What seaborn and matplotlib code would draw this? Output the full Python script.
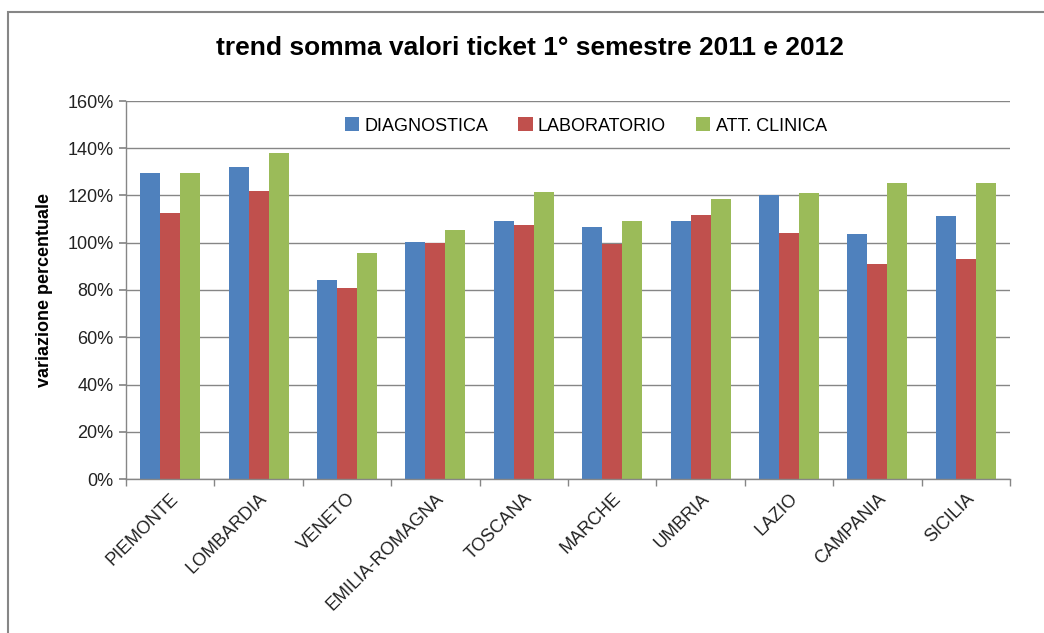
import matplotlib
matplotlib.use("Agg")
import matplotlib.pyplot as plt
import seaborn as sns
import pandas as pd
from matplotlib.patches import Rectangle
from matplotlib.ticker import FuncFormatter, FixedLocator

regions = ["PIEMONTE", "LOMBARDIA", "VENETO", "EMILIA-ROMAGNA", "TOSCANA",
           "MARCHE", "UMBRIA", "LAZIO", "CAMPANIA", "SICILIA"]
diagnostica = [129.6, 132.1, 84.1, 100.2, 109.1, 106.5, 109.1, 120.0, 103.8, 111.3]
laboratorio = [112.6, 122.1, 81.0, 99.9, 107.4, 99.4, 111.8, 104.2, 90.9, 93.0]
att_clinica = [129.6, 138.1, 95.8, 105.5, 121.5, 109.1, 118.6, 121.1, 125.5, 125.1]
series_names = ["DIAGNOSTICA", "LABORATORIO", "ATT. CLINICA"]
colors = ["#4F81BD", "#C0504D", "#9BBB59"]
title = "trend somma valori ticket 1° semestre 2011 e 2012"
ylabel = "variazione percentuale"

rows = []
for name, vals in zip(series_names, [diagnostica, laboratorio, att_clinica]):
    for r, v in zip(regions, vals):
        rows.append({"regione": r, "serie": name, "valore": v})
df = pd.DataFrame(rows)

sns.set_theme(style="white")
plt.rcParams['font.family'] = ['Liberation Sans', 'DejaVu Sans']
plt.rcParams['text.color'] = 'black'
plt.rcParams['axes.labelcolor'] = 'black'

fig = plt.figure(figsize=(10.44, 6.33), dpi=100)
ax = fig.add_axes([126/1044, 1-479/633, (1010-126)/1044, (479-101)/633])

sns.barplot(data=df, x="regione", y="valore", hue="serie", palette=colors,
            width=0.68, ax=ax, saturation=1, edgecolor="none", linewidth=0)

ax.set_ylim(0, 160)
ax.set_xlim(-0.5, len(regions) - 0.5)
ax.set_yticks(range(0, 161, 20))
ax.yaxis.set_major_formatter(FuncFormatter(lambda v, p: f"{int(v)}%"))
ax.grid(axis="y", color="#868686", linewidth=1)
ax.set_axisbelow(True)
for s in ["top", "right"]:
    ax.spines[s].set_visible(False)
for s in ["left", "bottom"]:
    ax.spines[s].set_color("#868686")
    ax.spines[s].set_linewidth(1)

ax.tick_params(axis="y", which="major", left=True, length=5, color="#868686",
               labelsize=13, labelcolor="#222222", pad=4)
ax.set_xticks(range(len(regions)))
ax.set_xticklabels(regions, rotation=45, ha="right", rotation_mode="anchor",
                   fontsize=13, color="#222222")
ax.tick_params(axis="x", which="major", length=0, pad=8)
ax.xaxis.set_minor_locator(FixedLocator([i - 0.5 for i in range(len(regions) + 1)]))
ax.tick_params(axis="x", which="minor", bottom=True, length=5, color="#868686")

ax.set_xlabel("")
ax.set_ylabel(ylabel, fontsize=13, fontweight="bold", labelpad=10)

handles, labels = ax.get_legend_handles_labels()
leg = ax.legend(handles, labels, loc="center", bbox_to_anchor=(0.52, 0.934),
                ncol=3, frameon=False, fontsize=13, handlelength=0.8,
                handleheight=0.8, handletextpad=0.3, columnspacing=1.65)

fig.text(530/1044, 1-48/633, title, ha="center", va="center",
         fontsize=19, fontweight="bold", color="black")

rect = Rectangle((8/1044, -0.2), 1.5, 1.2 - 12/633, transform=fig.transFigure,
                 fill=False, edgecolor="#868686", linewidth=1.5, zorder=10)
fig.patches.append(rect)

fig.savefig("out.png", dpi=100)
